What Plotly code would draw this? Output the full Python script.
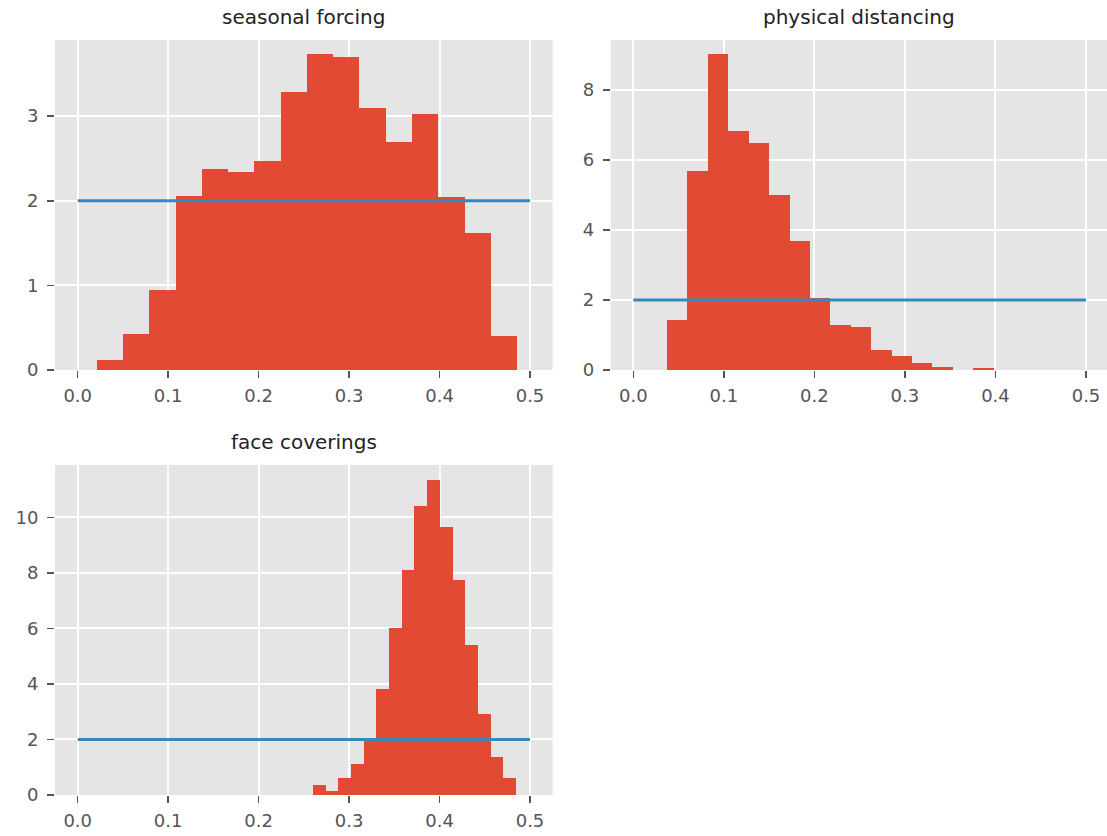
import plotly.graph_objects as go

# ---------------- data ----------------
titles = ["seasonal forcing", "physical distancing", "face coverings"]

sf_edges = [0.0210, 0.0500, 0.0791, 0.1081, 0.1372, 0.1662, 0.1952, 0.2243, 0.2533,
            0.2824, 0.3114, 0.3404, 0.3695, 0.3985, 0.4276, 0.4566, 0.4856]
sf_density = [0.12, 0.43, 0.94, 2.06, 2.37, 2.34, 2.47, 3.29, 3.73, 3.70, 3.10, 2.70,
              3.02, 2.04, 1.62, 0.40]

pd_edges = [0.0373, 0.0598, 0.0824, 0.1049, 0.1275, 0.1500, 0.1725, 0.1951, 0.2176,
            0.2402, 0.2627, 0.2852, 0.3078, 0.3303, 0.3529, 0.3754, 0.3979]
pd_density = [1.43, 5.69, 9.02, 6.83, 6.48, 5.01, 3.68, 2.05, 1.28, 1.24, 0.56, 0.39,
              0.20, 0.08, 0.0, 0.05]

fc_edges = [0.2601, 0.2741, 0.2882, 0.3022, 0.3162, 0.3303, 0.3443, 0.3583, 0.3723,
            0.3864, 0.4004, 0.4144, 0.4285, 0.4425, 0.4565, 0.4706, 0.4846]
fc_density = [0.35, 0.15, 0.63, 1.13, 2.03, 3.81, 6.02, 8.09, 10.42, 11.35, 9.65, 7.73,
              5.39, 2.93, 1.37, 0.61]

prior_x = [0.0, 0.5]
prior_y = [2.0, 2.0]

x_ticks = [0.0, 0.1, 0.2, 0.3, 0.4, 0.5]
y_ticks = [[0, 1, 2, 3], [0, 2, 4, 6, 8], [0, 2, 4, 6, 8, 10]]

# ---------------- layout geometry ----------------
W, H = 1107, 836
RED = "#E24A33"
BLUE = "#348ABD"
BG = "#E5E5E5"
TICK_COL = "#555555"
FONT = "DejaVu Sans"

# pixel boxes in the final page: (left, right, top, bottom)
boxes = [(55.1, 552.6, 40, 370), (610.7, 1107, 40, 370), (55.1, 552.6, 465, 795)]
x_ranges = [[-0.025, 0.525], [-0.025, 0.5232], [-0.025, 0.525]]
y_ranges = [[0, 3.90], [0, 9.43], [0, 11.89]]

hists = [(sf_edges, sf_density), (pd_edges, pd_density), (fc_edges, fc_density)]

fig = go.Figure()
layout = {}
annotations = []
for i, ((edges, dens), box) in enumerate(zip(hists, boxes)):
    n = "" if i == 0 else str(i + 1)
    xa, ya = "x" + n, "y" + n
    lefts = edges[:-1]
    widths = [b - a for a, b in zip(edges[:-1], edges[1:])]
    fig.add_trace(go.Bar(x=lefts, y=dens, width=widths, offset=0,
                         marker=dict(color=RED, line=dict(width=0)),
                         xaxis=xa, yaxis=ya, showlegend=False))
    fig.add_trace(go.Scatter(x=prior_x, y=prior_y, mode="lines",
                             line=dict(color=BLUE, width=3),
                             xaxis=xa, yaxis=ya, showlegend=False))
    l, r, t, b = box
    common = dict(showgrid=True, gridcolor="white", gridwidth=2, zeroline=False,
                  showline=False, ticks="outside", ticklen=7, tickwidth=1.5,
                  tickcolor=TICK_COL, automargin=False,
                  tickfont=dict(family=FONT, size=18, color=TICK_COL))
    layout["xaxis" + n] = dict(domain=[max(l / W, 0), min(r / W, 1)], range=x_ranges[i],
                               tickvals=x_ticks, tickformat=".1f",
                               ticklabelstandoff=2, anchor=ya, **common)
    layout["yaxis" + n] = dict(domain=[1 - b / H, 1 - t / H], range=y_ranges[i],
                               tickvals=y_ticks[i], ticklabelstandoff=5,
                               anchor=xa, **common)
    annotations.append(dict(text=titles[i], xref="paper", yref="paper",
                            x=(l + r) / 2 / W, y=1 - t / H, xanchor="center",
                            yanchor="bottom", yshift=9, showarrow=False,
                            font=dict(family=FONT, size=20, color="#222222")))

fig.update_layout(width=W, height=H, margin=dict(l=0, r=0, t=0, b=0),
                  paper_bgcolor="white", plot_bgcolor=BG, bargap=0,
                  hovermode=False, annotations=annotations, **layout)
fig.write_html("out.html", config={"displayModeBar": False, "staticPlot": True},
               post_script="document.body.style.margin='0';"
                           "document.body.style.overflow='hidden';")
